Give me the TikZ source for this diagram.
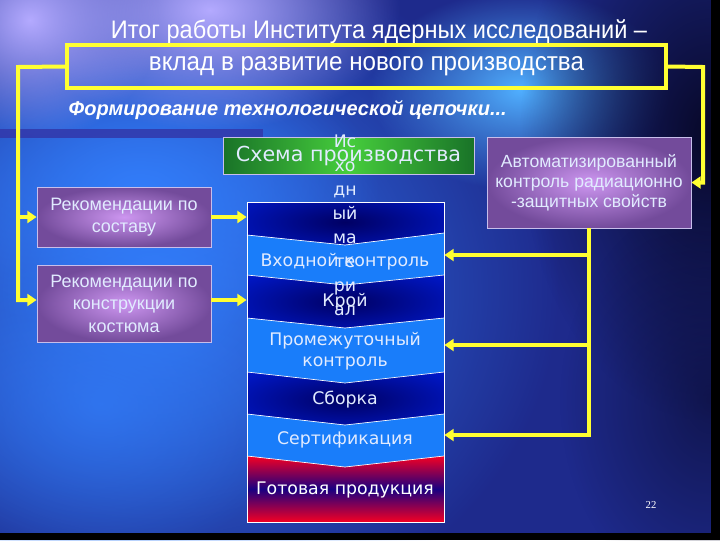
\documentclass[tikz,border=0pt]{standalone}
\usepackage{fontspec}
\setmainfont{DejaVu Sans}
\newfontfamily\arialf{Liberation Sans}
\newfontfamily\narrowf[FakeStretch=0.93]{Liberation Sans}
\newfontfamily\timesf{Liberation Serif}
\usetikzlibrary{arrows.meta,fadings}
\tikzfading[name=glow, inner color=transparent!0, outer color=transparent!100]
\definecolor{yel}{RGB}{255,255,50}
\definecolor{bgbase}{RGB}{30,42,140}
\definecolor{bgcyan}{RGB}{80,175,255}
\definecolor{bgblue}{RGB}{50,125,250}
\definecolor{bglav}{RGB}{180,170,255}
\definecolor{bgdark}{RGB}{8,8,40}
\definecolor{barblue}{RGB}{50,55,170}
\definecolor{purin}{RGB}{205,150,240}
\definecolor{purout}{RGB}{115,75,155}
\definecolor{purline}{RGB}{200,190,235}
\definecolor{grdark}{RGB}{25,115,40}
\definecolor{grlight}{RGB}{70,205,60}
\definecolor{lightband}{RGB}{25,125,250}
\definecolor{darkedge}{RGB}{0,25,205}
\definecolor{darkcen}{RGB}{0,0,100}
\definecolor{redband}{RGB}{245,0,35}
\definecolor{redmid}{RGB}{25,0,130}
\definecolor{txtlight}{RGB}{225,235,255}
\begin{document}
\begin{tikzpicture}[x=0.75pt,y=-0.75pt,
  yline/.style={draw=yel, line width=3pt},
  yarr/.style={draw=yel, line width=3pt, line join=miter, -{Triangle[length=7pt,width=9pt]}},
  purbox/.style={draw=purline, line width=0.6pt, inner sep=0pt, align=center,
    inner color=purin, outer color=purout, text=txtlight},
  stacktxt/.style={text=txtlight, font=\fontsize{13}{16}\selectfont, align=center},
  chev/.style={draw=white, line width=0.5pt}]
\useasboundingbox (0,0) rectangle (720,540);
% background
\fill[bgbase] (0,0) rectangle (720,540);
\fill[bgblue, path fading=glow] (-250,-60) rectangle (560,640);
\fill[bgblue, path fading=glow] (-100,40) rectangle (380,340);
\fill[bgblue, opacity=0.7, path fading=glow] (-100,250) rectangle (300,560);
\fill[bglav, path fading=glow] (20,-110) rectangle (400,130);
\fill[bglav, path fading=glow] (-100,-100) rectangle (160,140);
\fill[bgcyan, path fading=glow] (370,-10) rectangle (670,190);
\fill[bgdark, path fading=glow] (520,-150) rectangle (900,420);
\fill[bgdark, opacity=0.6, path fading=glow] (560,200) rectangle (860,600);
\fill[black] (711,0) rectangle (720,540);
\fill[black] (0,533) rectangle (720,540);
% bar
\fill[barblue, opacity=0.85] (0,129) rectangle (263,138);
% title
\node[text=white, font=\narrowf\fontsize{19}{21}\selectfont] (t1) at (379,32)
  {Итог работы Института ядерных исследований –};
\node[draw=yel, line width=3pt, minimum width=599*0.75pt, minimum height=43*0.75pt,
  inner sep=0pt, text=white, font=\narrowf\fontsize{19.5}{21}\selectfont] (frame) at (366.5,66.5)
  {вклад в развитие нового производства};
\node[anchor=west, text=white, font=\arialf\bfseries\itshape\fontsize{15}{17}\selectfont] (form)
  at (64,110) {Формирование технологической цепочки...};
% left boxes
\node[purbox, minimum width=174*0.75pt, minimum height=60*0.75pt,
  font=\arialf\fontsize{13.5}{16.5}\selectfont] (box1) at (124,217)
  {Рекомендации по\\составу};
\node[purbox, minimum width=174*0.75pt, minimum height=77*0.75pt,
  font=\arialf\fontsize{13.5}{16.8}\selectfont] (box2) at (124,303.5)
  {Рекомендации по\\конструкции\\костюма};
\node[purbox, minimum width=204*0.75pt, minimum height=91*0.75pt,
  font=\arialf\fontsize{13.2}{15}\selectfont] (auto) at (589,182.5)
  {Автоматизированный\\контроль радиационно\\-защитных свойств};
% green
\node[draw=purline, line width=0.6pt, inner sep=0pt, minimum width=251*0.75pt,
  minimum height=37*0.75pt, left color=grdark, right color=grdark, middle color=grlight,
  text=txtlight, font=\fontsize{15.5}{18}\selectfont] (schema) at (348.5,155.5)
  {Схема производства};
% stack bands
\fill[darkedge] (247,202) -- (444,202) -- (444,233) -- (345,245) -- (247,235) -- cycle;
\begin{scope}
\clip (247,202) -- (444,202) -- (444,233) -- (345,245) -- (247,235) -- cycle;
\shade[inner color=darkcen, outer color=darkedge] (345,222) ellipse (140 and 40);
\end{scope}
\fill[lightband] (247,235) -- (345,245) -- (444,233) -- (444,275) -- (345,285) -- (247,275) -- cycle;
\begin{scope}
\clip (247,275) -- (345,285) -- (444,275) -- (444,318) -- (345,328) -- (247,318) -- cycle;
\shade[inner color=darkcen, outer color=darkedge] (345,302) ellipse (140 and 40);
\end{scope}
\fill[lightband] (247,318) -- (345,328) -- (444,318) -- (444,372) -- (345,383) -- (247,372) -- cycle;
\begin{scope}
\clip (247,372) -- (345,383) -- (444,372) -- (444,414) -- (345,425) -- (247,414) -- cycle;
\shade[inner color=darkcen, outer color=darkedge] (345,400) ellipse (140 and 40);
\end{scope}
\fill[lightband] (247,414) -- (345,425) -- (444,414) -- (444,456) -- (345,467) -- (247,456) -- cycle;
\begin{scope}
\clip (247,456) -- (345,467) -- (444,456) -- (444,522) -- (247,522) -- cycle;
\shade[top color=redband, bottom color=redband, middle color=redmid] (247,456) rectangle (444,522);
\end{scope}
\draw[chev] (247,235) -- (345,245) -- (444,233);
\draw[chev] (247,275) -- (345,285) -- (444,275);
\draw[chev] (247,318) -- (345,328) -- (444,318);
\draw[chev] (247,372) -- (345,383) -- (444,372);
\draw[chev] (247,414) -- (345,425) -- (444,414);
\draw[chev] (247,456) -- (345,467) -- (444,456);
\node[draw=white, line width=0.6pt, minimum width=197*0.75pt, minimum height=320*0.75pt,
  inner sep=0pt] (stack) at (345.5,362) {};
\node[stacktxt] (vk) at (345,262) {Входной контроль};
\node[stacktxt] (kroy) at (345,302) {Крой};
\node[stacktxt] (pk) at (345,351) {Промежуточный\\контроль};
\node[stacktxt] (sb) at (345,400) {Сборка};
\node[stacktxt] (sert) at (345,440) {Сертификация};
\node[stacktxt, text=white] (gp) at (345,490) {Готовая продукция};
\node[stacktxt, font=\fontsize{13}{18}\selectfont] (ism) at (345,225)
  {Ис\\хо\\дн\\ый\\ма\\те\\ри\\ал};
% connectors
\coordinate (lc1) at (18,67);
\coordinate (lc2) at (18,300);
\coordinate (lcm) at (18,217);
\draw[yarr] (frame.west) -- (lc1) -- (lc2) -- (lc2 -| box2.west);
\draw[yarr] (lcm) -- (box1.west);
\coordinate (rc1) at (703,67);
\coordinate (rc2) at (703,182.5);
\draw[yarr] (frame.east) -- (rc1) -- (rc2) -- (auto.east);
\draw[yarr] (box1.east) -- (box1.east -| stack.west);
\coordinate (b2o) at (211,300);
\draw[yarr] (b2o) -- (b2o -| stack.west);
\coordinate (r1) at (589,255);
\coordinate (r2) at (589,345);
\coordinate (r3) at (589,435);
\draw[yarr] (auto.south) -- (r3) -- (r3 -| stack.east);
\draw[yarr] (r1) -- (r1 -| stack.east);
\draw[yarr] (r2) -- (r2 -| stack.east);
% page number
\node[text=white, font=\timesf\fontsize{8}{10}\selectfont] (pg) at (651,505) {22};
\end{tikzpicture}
\end{document}
